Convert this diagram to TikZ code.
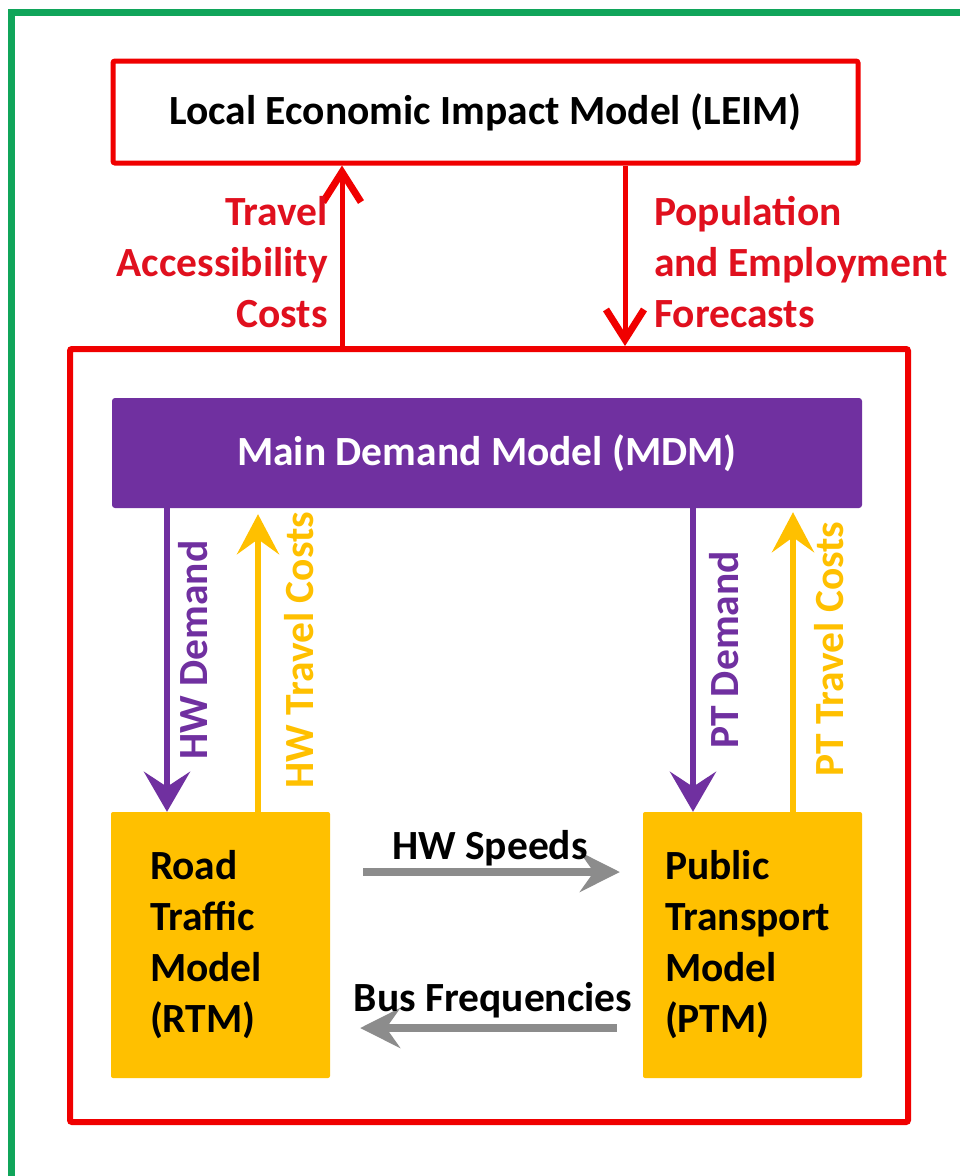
\documentclass[tikz,border=0pt]{standalone}
\usepackage{fontspec}
\setmainfont{Carlito}
\usetikzlibrary{arrows.meta,calc}
\definecolor{bred}{HTML}{F00000}
\definecolor{tred}{HTML}{E0101E}
\definecolor{mpurple}{HTML}{7030A0}
\definecolor{myellow}{HTML}{FFC000}
\definecolor{mgray}{HTML}{8C8C8C}
\definecolor{mgreen}{HTML}{10A55A}
\newcommand{\bigfont}{\fontsize{41.5}{51}\selectfont\bfseries}
\begin{document}
\begin{tikzpicture}[x=1pt,y=-1pt,
  lbl/.style={font=\bigfont, inner sep=0pt},
  boxred/.style={draw=bred, line width=5pt, inner sep=0pt, rounded corners=2pt},
  ybox/.style={fill=myellow, inner sep=0pt, minimum width=219pt, minimum height=266pt, rounded corners=2pt,
     font=\bigfont, align=left},
  redarr/.style={draw=bred, line width=5pt, -{Straight Barb[length=30pt,width=38pt,line width=7pt]}},
  purarr/.style={draw=mpurple, line width=6pt, -{Stealth[length=40pt,width=46pt,inset=15pt]}},
  yelarr/.style={draw=myellow, line width=6pt, -{Stealth[length=40pt,width=42pt,inset=15pt]}},
  grayarr/.style={draw=mgray, line width=8pt, -{Stealth[length=40pt,width=40pt,inset=14pt]}}
]
\clip (0,0) rectangle (960,1176);
\fill[white] (0,0) rectangle (960,1176);
% green frame
\draw[mgreen, line width=7pt] (11,12) rectangle (985,1195);

% nodes
\node[boxred, minimum width=745pt, minimum height=102pt, font=\bigfont] (leim) at (485.5,112) {Local Economic Impact Model (LEIM)};
\node[draw=bred, line width=6pt, rounded corners=2pt, minimum width=838pt, minimum height=773pt, inner sep=0pt] (outer) at (489,735.5) {};
\node[fill=mpurple, rounded corners=3pt, minimum width=750pt, minimum height=110pt, inner sep=0pt, text=white, font=\bigfont] (mdm) at (487,453) {Main Demand Model (MDM)};
\node[ybox, inner xsep=39pt, text width=141pt] (rtm) at (220.5,945) {Road\\Traffic\\Model\\(RTM)};
\node[ybox, inner xsep=22pt, text width=175pt] (ptm) at (752.5,945) {Public\\Transport\\Model\\(PTM)};

% helper coordinates
\coordinate (xtr) at (342,0);
\coordinate (xpop) at (625,0);
\coordinate (xhwd) at (167,0);
\coordinate (xhwt) at (258,0);
\coordinate (xptd) at (693,0);
\coordinate (xptt) at (793,0);
\coordinate (yhws) at (0,872);
\coordinate (ybus) at (0,1028);

% connectors
\draw[redarr] (outer.north -| xtr) -- (leim.south -| xtr);
\draw[redarr] (leim.south -| xpop) -- (outer.north -| xpop);
\draw[purarr] (mdm.south -| xhwd) -- (rtm.north -| xhwd);
\draw[yelarr, shorten >=6pt] (rtm.north -| xhwt) -- (mdm.south -| xhwt);
\draw[purarr] (mdm.south -| xptd) -- (ptm.north -| xptd);
\draw[yelarr, shorten >=4pt] (ptm.north -| xptt) -- (mdm.south -| xptt);
\draw[grayarr, shorten <=33pt, shorten >=23pt] (rtm.east |- yhws) -- (ptm.west |- yhws);
\draw[grayarr, shorten <=26pt, shorten >=30pt] (ptm.west |- ybus) -- (rtm.east |- ybus);

% labels
\node[lbl, text=tred, align=right, anchor=east] (ltr) at (328,262) {Travel\\Accessibility\\Costs};
\node[lbl, text=tred, align=left, anchor=west] (lpop) at (654,262) {Population\\and Employment\\Forecasts};
\node[lbl, text=mpurple, rotate=90] (lhwd) at (193,650) {HW Demand};
\node[lbl, text=myellow, rotate=90] (lhwt) at (299,650) {HW Travel Costs};
\node[lbl, text=mpurple, rotate=90] (lptd) at (724,650) {PT Demand};
\node[lbl, text=myellow, rotate=90] (lptt) at (829,649) {PT Travel Costs};
\node[lbl] (lhws) at (490,848) {HW Speeds};
\node[lbl] (lbus) at (493,1000) {Bus Frequencies};
\end{tikzpicture}
\end{document}
